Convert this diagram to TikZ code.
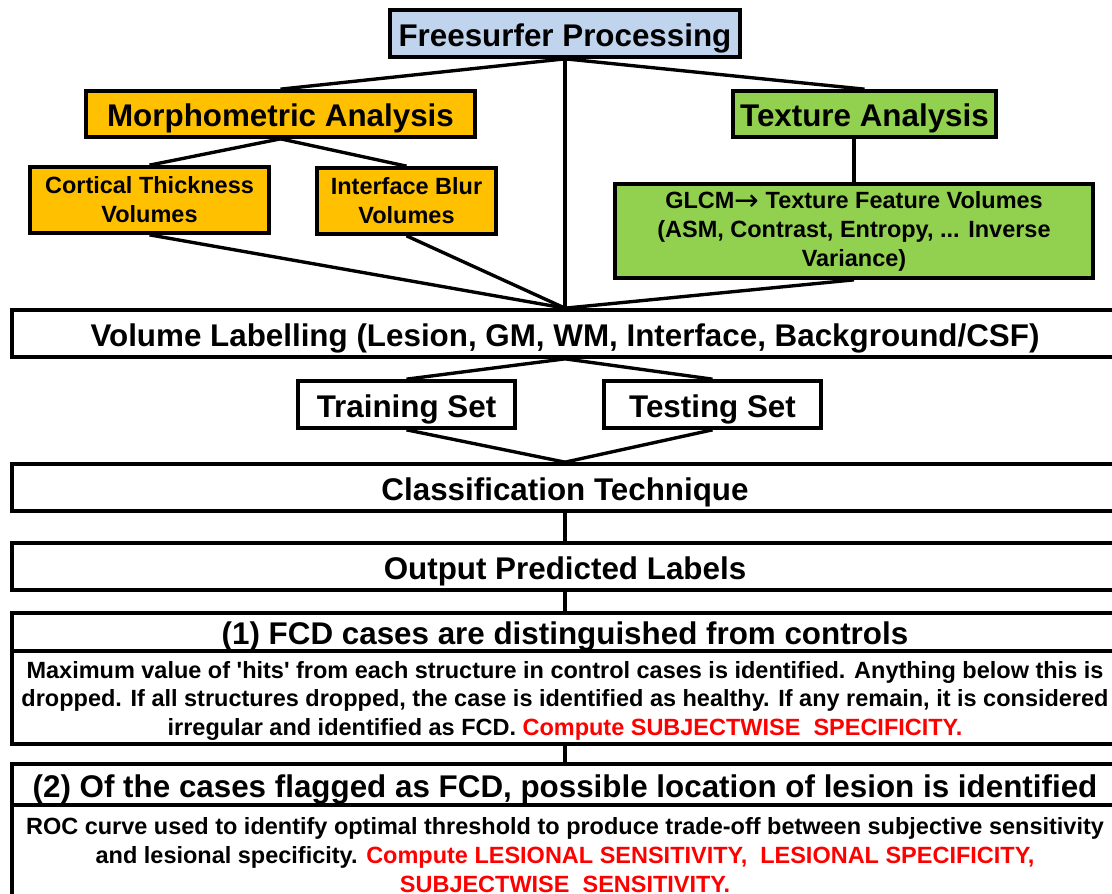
\documentclass[tikz,border=0pt]{standalone}
\usepackage{fontspec}
\setmainfont{Liberation Sans}
\newfontfamily\arrowfont{DejaVu Sans}
\usetikzlibrary{positioning}
\definecolor{fsblue}{RGB}{192,212,238}
\definecolor{morphorange}{RGB}{255,192,0}
\definecolor{texgreen}{RGB}{146,208,80}
\tikzset{
  box/.style={draw, rectangle, line width=2.6pt, align=center, inner sep=0pt},
  hd/.style={box, font=\fontsize{22.3}{26}\selectfont\bfseries, text height=18.5pt, text depth=0.5pt},
  sm/.style={box, font=\fontsize{16.7}{20.6}\selectfont\bfseries},
  wide/.style={minimum width=27.65cm},
  ln/.style={line width=2.4pt},
}
\begin{document}
\begin{tikzpicture}[x=0.025cm, y=-0.025cm]

\useasboundingbox (0,0) rectangle (1112,894);
\clip (0,0) rectangle (1112,894);

% Feature extraction
\node[hd, fill=fsblue, minimum width=8.75cm, minimum height=1.175cm] (fs) at (565,33.5) {Freesurfer Processing};
\node[hd, fill=morphorange, minimum width=9.725cm, minimum height=1.15cm] (morph) at (280.5,114) {Morphometric Analysis};
\node[hd, fill=texgreen, minimum width=6.575cm, minimum height=1.15cm] (tex) at (864.5,114) {Texture Analysis};
\node[sm, fill=morphorange, minimum width=5.975cm, minimum height=1.65cm] (ct) at (149.5,200) {Cortical Thickness\\Volumes};
\node[sm, fill=morphorange, minimum width=4.475cm, minimum height=1.65cm] (ib) at (406.5,201) {Interface Blur\\Volumes};
\node[sm, fill=texgreen, minimum width=11.95cm, minimum height=2.35cm] (glcm) at (854,231)
  {GLCM{\arrowfont\mdseries\fontsize{21}{20}\selectfont\raisebox{-1.5pt}{→}} Texture Feature Volumes\\(ASM, Contrast, Entropy, ... Inverse\\Variance)};

% Classification
\node[hd, wide, minimum height=1.175cm] (vl) at (565,333.5) {Volume Labelling (Lesion, GM, WM, Interface, Background/CSF)};
\node[hd, minimum width=5.425cm, minimum height=1.175cm] (train) at (406.5,404.5) {Training Set};
\node[hd, minimum width=5.425cm, minimum height=1.175cm] (test) at (712.5,404.5) {Testing Set};
\node[hd, wide, minimum height=1.175cm] (cls) at (565,487.5) {Classification Technique};
\node[hd, wide, minimum height=1.175cm] (out) at (565,566.5) {Output Predicted Labels};

% Evaluation
\node[hd, wide, minimum height=0.95cm] (c1h) at (565,632) {(1) FCD cases are distinguished from controls};
\node[sm, wide, minimum height=2.325cm] (c1b) at (565,697.5)
  {\rule{0pt}{17pt}Maximum value of \textquotesingle hits\textquotesingle{} from each structure in control cases is identified. Anything below this is\\
   dropped. If all structures dropped, the case is identified as healthy. If any remain, it is considered\\
   irregular and identified as FCD. \textcolor{red}{Compute SUBJECTWISE\ \ SPECIFICITY.}};
\node[hd, wide, minimum height=1.025cm] (c2h) at (565,784.5) {(2) Of the cases flagged as FCD, possible location of lesion is identified};
\node[sm, wide, minimum height=2.5cm] (c2b) at (565,855)
  {ROC curve used to identify optimal threshold to produce trade-off between subjective sensitivity\\
   and lesional specificity. \textcolor{red}{Compute LESIONAL SENSITIVITY,\ \ LESIONAL SPECIFICITY,}\\
   \textcolor{red}{SUBJECTWISE\ \ SENSITIVITY.}};

% Connectors
\foreach \a/\b in {fs/morph, fs/tex, fs/vl, morph/ct, morph/ib, ct/vl, ib/vl, glcm/vl,
                   vl/train, vl/test, train/cls, test/cls, cls/out, out/c1h, c1b/c2h}
  \draw[ln] (\a.south) -- (\b.north);
\draw[ln] (tex.south -| glcm.north) -- (glcm.north);

\end{tikzpicture}
\end{document}
